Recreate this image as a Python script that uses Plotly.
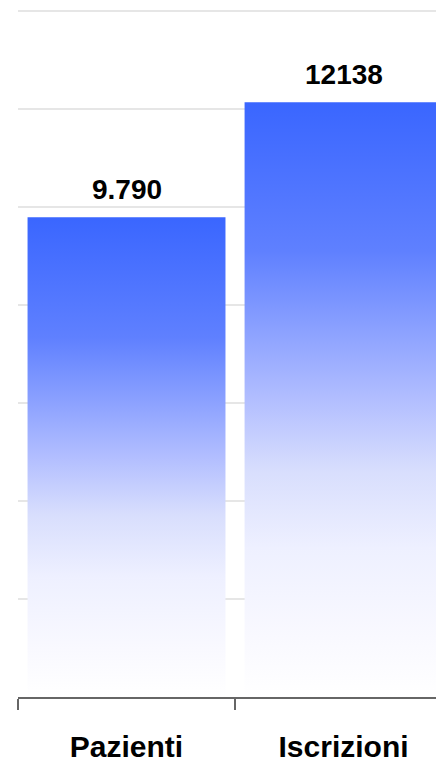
import plotly.graph_objects as go

categories = ["Pazienti", "Iscrizioni"]
values = [9790, 12138]
value_labels = ["9.790", "12138"]
y_ticks = [0, 2000, 4000, 6000, 8000, 10000, 12000, 14000]

BAR_W = 0.912
FONT = "Liberation Sans, Arial, sans-serif"
gradient = [
    [0.0, "#ffffff"],
    [0.10, "#f9f9ff"],
    [0.25, "#eef0ff"],
    [0.38, "#d8defd"],
    [0.50, "#b2beff"],
    [0.75, "#5f80ff"],
    [1.0, "#3a66ff"],
]

fig = go.Figure()
for i, (cat, v) in enumerate(zip(categories, values)):
    x0, x1 = i - BAR_W / 2, i + BAR_W / 2
    fig.add_trace(go.Scatter(
        x=[x0, x1, x1, x0, x0],
        y=[0, 0, v, v, 0],
        mode="lines",
        fill="toself",
        line=dict(width=0),
        fillgradient=dict(type="vertical", colorscale=gradient, start=0, stop=v),
        name=cat,
        hoverinfo="skip",
        showlegend=False,
    ))
    fig.add_annotation(
        x=i, y=v, text=value_labels[i], showarrow=False,
        yanchor="bottom", yshift=10,
        font=dict(family=FONT, size=28, color="#000000", weight="bold"),
    )

fig.update_layout(
    width=436, height=763,
    margin=dict(l=18, r=0, t=9, b=66, autoexpand=False),
    paper_bgcolor="white", plot_bgcolor="white",
    showlegend=False,
)
fig.update_xaxes(
    range=[-0.5, 1.426], automargin=False,
    tickmode="array", tickvals=list(range(len(categories))), ticktext=categories,
    ticks="", showgrid=False, zeroline=False,
    showline=True, linecolor="#666666", linewidth=1.5,
    ticklabelstandoff=22,
    tickfont=dict(family=FONT, size=30, color="#000000", weight="bold"),
    minor=dict(tickmode="array", tickvals=[-0.5, 0.5, 1.5], ticks="outside",
               ticklen=11, tickcolor="#666666", tickwidth=1.5, showgrid=False),
)
fig.update_yaxes(
    range=[0, 14040], automargin=False, tickmode="array", tickvals=y_ticks,
    showticklabels=False, ticks="", showgrid=True,
    gridcolor="#e6e6e6", gridwidth=1.5, zeroline=False, showline=False,
)

# remove the page's default 8px body margin so the figure fills the window exactly
fig.write_html(
    "out.html",
    config={"displayModeBar": False},
    post_script="document.body.style.margin='0';document.body.style.overflow='hidden';",
)
